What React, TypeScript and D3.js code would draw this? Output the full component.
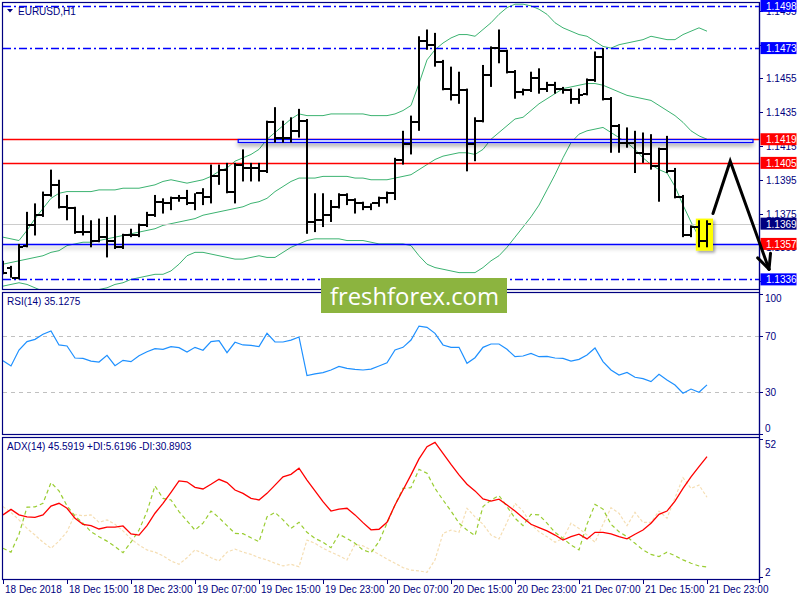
import React from 'react';
import * as d3 from 'd3';

const timeLabels = ['18 Dec 2018', '18 Dec 15:00', '18 Dec 23:00', '19 Dec 07:00', '19 Dec 15:00', '19 Dec 23:00', '20 Dec 07:00', '20 Dec 15:00', '20 Dec 23:00', '21 Dec 07:00', '21 Dec 15:00', '21 Dec 23:00'];

const opens = [1.1345,1.1343,1.1337,1.1356,1.1368,1.1374,1.1386,1.1392,1.1379,1.1378,
 1.1364,1.1364,1.1359,1.1361,1.1359,1.1355,1.1362,1.1362,1.1368,1.1374,
 1.1382,1.1381,1.1384,1.1384,1.1381,1.1387,1.1385,1.1397,1.1401,1.1388,
 1.1404,1.1402,1.1402,1.1400,1.1429,1.1420,1.1420,1.1424,1.1430,1.1370,
 1.1371,1.1374,1.1379,1.1386,1.1383,1.1381,1.1379,1.1381,1.1384,1.1387,
 1.1407,1.1416,1.1429,1.1477,1.1475,1.1465,1.1449,1.1445,1.1448,1.1416,
 1.1430,1.1457,1.1473,1.1471,1.1459,1.1447,1.1448,1.1455,1.1449,1.1451,
 1.1449,1.1448,1.1443,1.1446,1.1454,1.1468,1.1443,1.1427,1.1417,1.1417,
 1.1411,1.1410,1.1403,1.1413,1.1400,1.1385,1.1362,1.1367,1.1359];
const highs = [1.1347,1.1344,1.1357,1.1376,1.1381,1.1388,1.1401,1.1395,1.1386,1.1379,
 1.1374,1.1371,1.1372,1.1373,1.1374,1.1363,1.1366,1.1369,1.1376,1.1386,
 1.1384,1.1385,1.1386,1.1389,1.1387,1.1390,1.1404,1.1404,1.1405,1.1405,
 1.1413,1.1405,1.1405,1.1430,1.1438,1.1430,1.1432,1.1437,1.1431,1.1387,
 1.1387,1.1383,1.1387,1.1387,1.1384,1.1382,1.1381,1.1385,1.1388,1.1408,
 1.1424,1.1433,1.1480,1.1484,1.1482,1.1466,1.1462,1.1459,1.1449,1.1432,
 1.1463,1.1474,1.1484,1.1472,1.1460,1.1449,1.1459,1.1461,1.1453,1.1453,
 1.1450,1.1449,1.1449,1.1455,1.1471,1.1473,1.1444,1.1428,1.1426,1.1424,
 1.1423,1.1422,1.1414,1.1421,1.1402,1.1386,1.1368,1.1371,1.1371];
const lows = [1.1339,1.1337,1.1336,1.1355,1.1362,1.1373,1.1385,1.1378,1.1371,1.1363,
 1.1362,1.1355,1.1358,1.1349,1.1354,1.1354,1.1361,1.1361,1.1367,1.1373,
 1.1375,1.1377,1.1382,1.1380,1.1377,1.1380,1.1381,1.1392,1.1387,1.1381,
 1.1394,1.1394,1.1394,1.1399,1.1417,1.1417,1.1417,1.1420,1.1363,1.1364,
 1.1367,1.1370,1.1378,1.1380,1.1375,1.1377,1.1377,1.1379,1.1381,1.1383,
 1.1404,1.1410,1.1424,1.1472,1.1462,1.1448,1.1442,1.1440,1.1400,1.1406,
 1.1429,1.1450,1.1464,1.1458,1.1443,1.1445,1.1447,1.1446,1.1447,1.1446,
 1.1446,1.1440,1.1440,1.1445,1.1453,1.1442,1.1411,1.1411,1.1414,1.1399,
 1.1405,1.1401,1.1382,1.1399,1.1384,1.1361,1.1361,1.1355,1.1355];
const closes = [1.1340,1.1337,1.1355,1.1368,1.1374,1.1386,1.1392,1.1379,1.1378,1.1364,
 1.1364,1.1359,1.1361,1.1359,1.1355,1.1362,1.1362,1.1368,1.1374,1.1382,
 1.1381,1.1384,1.1384,1.1381,1.1387,1.1385,1.1397,1.1401,1.1388,1.1404,
 1.1402,1.1402,1.1400,1.1429,1.1420,1.1420,1.1424,1.1430,1.1370,1.1371,
 1.1374,1.1379,1.1386,1.1383,1.1381,1.1379,1.1381,1.1384,1.1387,1.1407,
 1.1416,1.1429,1.1477,1.1475,1.1465,1.1449,1.1445,1.1448,1.1416,1.1430,
 1.1457,1.1473,1.1471,1.1459,1.1447,1.1448,1.1455,1.1449,1.1451,1.1449,
 1.1448,1.1443,1.1445,1.1454,1.1468,1.1443,1.1427,1.1417,1.1417,1.1411,
 1.1410,1.1403,1.1413,1.1400,1.1385,1.1362,1.1367,1.1359,1.1369];

const bbUpper = [1.1361,1.1360,1.1359,1.1365,1.1372,1.1378,1.1384,1.1387,1.1388,1.1388,
 1.1388,1.1388,1.1389,1.1389,1.1389,1.1390,1.1390,1.1390,1.1391,1.1392,
 1.1394,1.1395,1.1394,1.1393,1.1394,1.1395,1.1397,1.1400,1.1402,1.1406,
 1.1408,1.1410,1.1413,1.1419,1.1423,1.1427,1.1431,1.1434,1.1433,1.1433,
 1.1433,1.1434,1.1434,1.1434,1.1434,1.1434,1.1433,1.1433,1.1433,1.1434,
 1.1436,1.1439,1.1452,1.1466,1.1472,1.1476,1.1479,1.1481,1.1481,1.1480,
 1.1484,1.1488,1.1493,1.1497,1.1499,1.1499,1.1498,1.1496,1.1493,1.1488,
 1.1485,1.1483,1.1481,1.1480,1.1477,1.1474,1.1473,1.1475,1.1476,1.1477,
 1.1478,1.1480,1.1479,1.1478,1.1478,1.1481,1.1483,1.1485,1.1483];
const bbMiddle = [1.1345,1.1346,1.1347,1.1348,1.1349,1.1350,1.1352,1.1353,1.1356,1.1357,
 1.1358,1.1358,1.1359,1.1360,1.1361,1.1362,1.1363,1.1364,1.1365,1.1366,
 1.1368,1.1369,1.1370,1.1371,1.1372,1.1374,1.1375,1.1376,1.1377,1.1378,
 1.1379,1.1381,1.1382,1.1384,1.1388,1.1391,1.1394,1.1396,1.1396,1.1396,
 1.1397,1.1397,1.1397,1.1397,1.1396,1.1396,1.1395,1.1395,1.1395,1.1396,
 1.1397,1.1398,1.1401,1.1404,1.1407,1.1409,1.1410,1.1411,1.1411,1.1410,
 1.1413,1.1419,1.1423,1.1427,1.1431,1.1432,1.1436,1.1440,1.1443,1.1446,
 1.1449,1.1450,1.1451,1.1452,1.1452,1.1451,1.1449,1.1447,1.1445,1.1444,
 1.1443,1.1442,1.1439,1.1436,1.1433,1.1429,1.1424,1.1421,1.1419];
const bbLower = [1.1332,1.1333,1.1334,1.1333,1.1331,1.1329,1.1326,1.1324,1.1323,1.1324,
 1.1326,1.1329,1.1330,1.1331,1.1333,1.1334,1.1336,1.1337,1.1338,1.1339,
 1.1339,1.1341,1.1345,1.1350,1.1352,1.1352,1.1351,1.1350,1.1349,1.1348,
 1.1348,1.1349,1.1350,1.1349,1.1349,1.1352,1.1355,1.1357,1.1359,1.1360,
 1.1360,1.1360,1.1360,1.1359,1.1359,1.1359,1.1358,1.1357,1.1357,1.1357,
 1.1357,1.1356,1.1350,1.1345,1.1343,1.1342,1.1341,1.1340,1.1340,1.1340,
 1.1343,1.1347,1.1350,1.1355,1.1361,1.1367,1.1373,1.1380,1.1389,1.1398,
 1.1408,1.1417,1.1422,1.1424,1.1425,1.1426,1.1423,1.1420,1.1417,1.1413,
 1.1408,1.1404,1.1401,1.1399,1.1391,1.1380,1.1370,1.1361,1.1354];

const rsi = [52.4,48.6,60.0,66.0,67.6,71.2,73.6,63.6,62.9,54.3,
 54.0,52.1,51.4,56.2,48.8,52.6,51.7,55.9,58.8,61.0,
 60.5,62.4,61.7,58.6,61.9,59.8,66.0,66.7,58.1,65.5,
 63.6,63.3,62.4,71.9,65.7,65.7,67.1,69.3,41.7,42.9,
 43.8,45.7,48.3,46.9,46.2,45.7,46.4,48.6,50.9,60.0,
 61.9,67.1,77.1,76.2,71.9,63.6,61.9,61.9,50.5,54.5,
 61.9,64.3,64.3,60.5,55.2,55.7,57.6,55.2,55.5,54.3,
 54.0,52.1,53.3,56.4,61.4,51.7,45.7,42.1,44.0,40.5,
 39.5,37.4,42.6,38.6,35.0,29.1,32.1,29.8,35.1];

const adx = [24.5,26.5,24.5,23.8,23.6,24.5,27.7,28.7,26.9,23.3,
 21.1,20.6,19.4,20.1,20.1,20.5,17.6,17.2,20.6,25.1,
 28.7,32.7,36.8,36.5,34.5,33.9,35.6,37.4,36.2,33.5,
 32.3,30.5,29.9,32.3,35.3,38.3,39.2,41.4,37.1,33.2,
 29.3,25.9,26.6,26.9,24.5,21.7,19.1,19.3,21.8,28.1,
 33.5,39.0,44.8,49.2,50.8,46.8,42.8,39.0,35.6,33.2,
 30.3,29.5,30.2,28.1,25.9,23.5,21.1,19.9,18.7,17.2,
 15.4,16.6,17.5,15.8,18.2,18.2,17.6,16.6,15.8,17.5,
 19.0,21.5,24.7,25.9,29.5,34.1,38.3,42.0,45.6];
const plusDI = [12.4,11.0,17.5,27.3,27.4,28.7,36.2,33.2,27.8,24.1,
 21.5,18.4,16.6,15.0,13.0,10.8,14.6,19.0,25.7,35.0,
 30.5,29.9,25.7,22.3,19.0,21.5,25.9,23.5,20.6,17.8,
 17.7,16.2,14.8,23.8,25.4,22.7,19.6,21.8,18.2,16.0,
 14.6,12.6,17.5,16.0,14.2,11.8,10.8,14.8,21.5,28.1,
 34.1,34.4,41.0,39.6,34.1,29.9,25.9,21.5,19.0,17.0,
 27.5,29.9,31.5,27.5,23.3,20.6,24.7,24.5,21.5,18.2,
 16.0,13.6,11.8,21.1,28.3,26.6,21.1,18.4,16.6,14.2,
 11.8,10.2,9.4,11.0,9.7,8.2,7.0,6.0,5.6];
const minusDI = [27.5,25.4,22.7,19.6,17.2,14.6,12.4,15.0,18.4,24.7,
 24.2,24.5,21.8,22.7,21.1,18.7,15.8,13.6,11.8,11.0,
 9.7,7.8,6.6,9.0,11.8,10.6,9.0,7.8,11.0,12.1,
 11.0,10.2,9.0,8.2,7.0,6.0,6.6,5.7,15.4,14.2,
 12.4,11.0,9.7,8.2,13.8,13.3,11.8,10.2,8.5,7.0,
 5.4,4.5,4.2,3.7,8.2,17.8,19.0,18.2,26.9,23.8,
 21.1,17.2,15.8,21.8,28.7,25.9,21.1,18.4,16.6,14.6,
 16.0,21.5,19.6,17.2,14.6,21.1,27.1,25.1,20.6,25.4,
 21.8,21.8,25.9,23.3,30.7,38.0,34.1,35.3,30.9];

// price scale ticks; labels of ticks fully covered by level boxes are not drawn
const priceTicks = [1.1495, 1.1475, 1.1455, 1.1435, 1.1415, 1.1395, 1.1375, 1.1355, 1.1335];
const hiddenTickLabels = [1.1475, 1.1335];
const rsiTicks = [100, 70, 30, 0];
const rsiLevels = [70, 30];
const adxTicks = [52, 2];

const dashDotLevels = [1.1498, 1.1473, 1.1336];
const redLevels = [1.1419, 1.1405];
const blueLevels = [1.1357];
const lastPrice = 1.1369;
const zone = { t0: 29.4, t1: 93.75, p: 1.1419 };
const highlight = { t0: 86.6, t1: 88.75, p0: 1.1372, p1: 1.1353 };
const arrowPts = [
  { t: 88.75, p: 1.1375 },
  { t: 90.9, p: 1.1406 },
  { t: 95.75, p: 1.1342 },
];

const FONT = "'Liberation Sans', Arial, sans-serif";
const NAVY = '#000080';
const BLUE = '#0000ff';
const RED = '#ff0000';
const GREEN_BB = '#3cb371';

export default function App() {
  const n = opens.length;
  const idx = d3.range(n);
  const x = d3.scaleLinear().domain([0, 88]).range([3, 707]);
  const yP = d3.scaleLinear().domain([1.133, 1.15]).range([289.5, 2.5]);
  const yR = d3.scaleLinear().domain([0, 100]).range([434, 294]);
  const yA = d3.scaleLinear().domain([2, 52]).range([577, 439]);

  const mkLine = (ys: (v: number) => number) =>
    d3.line<number>().x((_, i) => x(i)).y((d) => ys(d));
  const lp = mkLine(yP);
  const lr = mkLine(yR);
  const la = mkLine(yA);

  const right = 759.5;
  const labelBoxes: { p: number; fill: string }[] = [
    ...dashDotLevels.map((p) => ({ p, fill: BLUE })),
    ...redLevels.map((p) => ({ p, fill: RED })),
    ...blueLevels.map((p) => ({ p, fill: RED })),
    { p: lastPrice, fill: NAVY },
  ];

  const a0 = arrowPts.map((d) => [x(d.t), yP(d.p)] as [number, number]);
  const tip = a0[a0.length - 1];
  const prev = a0[a0.length - 2];
  const ang = Math.atan2(tip[1] - prev[1], tip[0] - prev[0]);
  const headLen = 16;
  const arm = (off: number) => [tip[0] + headLen * Math.cos(ang + Math.PI + off), tip[1] + headLen * Math.sin(ang + Math.PI + off)];
  const h1 = arm(0.44);
  const h2 = arm(-0.44);

  return (
    <svg width={800} height={600} style={{ position: 'absolute', left: 0, top: 0, background: '#fff' }} fontFamily={FONT}>
      <defs>
        <clipPath id="mainClip"><rect x={3} y={3} width={756} height={286} /></clipPath>
        <filter id="shadow" filterUnits="userSpaceOnUse" x={0} y={0} width={800} height={600}>
          <feDropShadow dx={0} dy={3} stdDeviation={2} floodColor="#000" floodOpacity={0.35} />
        </filter>
        <filter id="shadow2" filterUnits="userSpaceOnUse" x={0} y={0} width={800} height={600}>
          <feDropShadow dx={2} dy={2} stdDeviation={1.5} floodColor="#000" floodOpacity={0.35} />
        </filter>
      </defs>
      <rect x={0} y={0} width={800} height={600} fill="#fff" />

      {/* main panel */}
      <g clipPath="url(#mainClip)">
        <path d={lp(bbUpper) || ''} fill="none" stroke={GREEN_BB} strokeWidth={1} />
        <path d={lp(bbMiddle) || ''} fill="none" stroke={GREEN_BB} strokeWidth={1} />
        <path d={lp(bbLower) || ''} fill="none" stroke={GREEN_BB} strokeWidth={1} />

        <line x1={3} x2={right} y1={Math.round(yP(lastPrice)) + 0.5} y2={Math.round(yP(lastPrice)) + 0.5} stroke="#cccccc" strokeWidth={1} />
        {dashDotLevels.map((p) => (
          <line key={p} x1={3} x2={right} y1={Math.round(yP(p)) + 0.5} y2={Math.round(yP(p)) + 0.5} stroke={BLUE} strokeWidth={1.3} strokeDasharray="8,3,2,3" />
        ))}
        {redLevels.map((p) => (
          <line key={p} x1={3} x2={right} y1={Math.round(yP(p)) + 0.5} y2={Math.round(yP(p)) + 0.5} stroke={RED} strokeWidth={1.3} />
        ))}
        {blueLevels.map((p) => (
          <line key={p} x1={3} x2={right} y1={Math.round(yP(p)) + 0.5} y2={Math.round(yP(p)) + 0.5} stroke={BLUE} strokeWidth={1.5} filter="url(#shadow)" />
        ))}
        <rect x={x(zone.t0)} y={Math.round(yP(zone.p)) + 0.5} width={x(zone.t1) - x(zone.t0)} height={3} fill="#dde4ff" stroke={BLUE} strokeWidth={1.2} filter="url(#shadow)" />

        <rect x={x(highlight.t0)} y={yP(highlight.p0)} width={x(highlight.t1) - x(highlight.t0)} height={yP(highlight.p1) - yP(highlight.p0)} fill="#ffff00" filter="url(#shadow2)" />

        {idx.map((i) => {
          const cx = Math.round(x(i));
          const yh = yP(highs[i]);
          const yl = yP(lows[i]);
          const yo = Math.round(yP(opens[i]));
          const yc = Math.round(yP(closes[i]));
          return (
            <g key={i} fill="#000">
              <rect x={cx - 1} y={yh} width={2} height={Math.max(1, yl - yh)} />
              <rect x={cx - 4} y={yo - 1} width={3} height={2} />
              <rect x={cx + 1} y={yc - 1} width={3} height={2} />
            </g>
          );
        })}
      </g>

      {/* RSI panel */}
      {rsiLevels.map((v) => (
        <line key={v} x1={3} x2={right} y1={Math.round(yR(v)) + 0.5} y2={Math.round(yR(v)) + 0.5} stroke="#c0c0c0" strokeWidth={1} strokeDasharray="4,4" />
      ))}
      <path d={lr(rsi) || ''} fill="none" stroke="#1e90ff" strokeWidth={1.2} />

      {/* ADX panel */}
      <path d={la(minusDI) || ''} fill="none" stroke="#f5deb3" strokeWidth={1.2} strokeDasharray="3,2" />
      <path d={la(plusDI) || ''} fill="none" stroke="#9acd32" strokeWidth={1.2} strokeDasharray="4,3" />
      <path d={la(adx) || ''} fill="none" stroke="#ff0000" strokeWidth={1.3} />

      {/* frames */}
      <g fill="none" stroke={NAVY} strokeWidth={1.2}>
        <rect x={2.5} y={2.5} width={757} height={287} />
        <rect x={2.5} y={292.5} width={757} height={142} />
        <rect x={2.5} y={437.5} width={757} height={142} />
        <line x1={right} x2={right} y1={2} y2={583} />
      </g>

      {/* x axis */}
      {timeLabels.map((t, k) => {
        const tx = Math.round(x(k * 8)) + 0.5;
        return (
          <g key={t}>
            <line x1={tx} x2={tx} y1={579.5} y2={584} stroke={NAVY} strokeWidth={1} />
            <text x={tx + 1.5} y={592.5} fontSize={10} fill={NAVY}>{t}</text>
          </g>
        );
      })}

      {/* price axis */}
      {priceTicks.map((p) => (
        <g key={p}>
          <line x1={right} x2={763} y1={Math.round(yP(p)) + 0.5} y2={Math.round(yP(p)) + 0.5} stroke={NAVY} />
          {hiddenTickLabels.includes(p) ? null : (
            <text x={766} y={yP(p) + 4} fontSize={10} fill={NAVY}>{p.toFixed(4)}</text>
          )}
        </g>
      ))}
      {labelBoxes.map((b) => (
        <g key={b.p}>
          <rect x={760.5} y={yP(b.p) - 6} width={36} height={12} fill={b.fill} />
          <text x={766} y={yP(b.p) + 4} fontSize={10} fill="#fff">{b.p.toFixed(4)}</text>
        </g>
      ))}

      {/* RSI axis */}
      {rsiTicks.map((v) => {
        const ty = v === 100 ? yR(v) + 4 : v === 0 ? yR(v) - 6 : yR(v);
        return (
          <g key={v}>
            <line x1={right} x2={763} y1={Math.round(yR(v)) + 0.5} y2={Math.round(yR(v)) + 0.5} stroke={NAVY} />
            <text x={765} y={ty + 4} fontSize={10} fill={NAVY}>{v}</text>
          </g>
        );
      })}
      {/* ADX axis */}
      {adxTicks.map((v) => {
        const ty = v === 52 ? yA(v) + 5 : yA(v) - 5;
        return (
          <g key={v}>
            <line x1={right} x2={763} y1={Math.round(yA(v)) + 0.5} y2={Math.round(yA(v)) + 0.5} stroke={NAVY} />
            <text x={765} y={ty + 4} fontSize={10} fill={NAVY}>{v}</text>
          </g>
        );
      })}

      {/* titles */}
      <polygon points="7,9 13,9 10,12.5" fill={NAVY} />
      <text x={18} y={15} fontSize={10} fill={NAVY}>EURUSD,H1</text>
      <text x={7} y={305} fontSize={10} fill={NAVY}>RSI(14) 35.1275</text>
      <text x={7} y={450} fontSize={10} fill={NAVY}>ADX(14) 45.5919 +DI:5.6196 -DI:30.8903</text>

      {/* arrow annotation */}
      <g stroke="#000" strokeWidth={3} strokeLinecap="round" strokeLinejoin="miter" fill="none">
        <polyline points={a0.map((p) => p.join(',')).join(' ')} />
        <line x1={tip[0]} y1={tip[1]} x2={h1[0]} y2={h1[1]} />
        <line x1={tip[0]} y1={tip[1]} x2={h2[0]} y2={h2[1]} />
      </g>

      {/* watermark */}
      <rect x={321} y={278} width={186} height={35} fill="#8cb43f" />
      <text x={330} y={305} fontSize={24} fill="#fff" fontFamily="'Open Sans', sans-serif" textLength={169} lengthAdjust="spacingAndGlyphs">freshforex.com</text>
    </svg>
  );
}
